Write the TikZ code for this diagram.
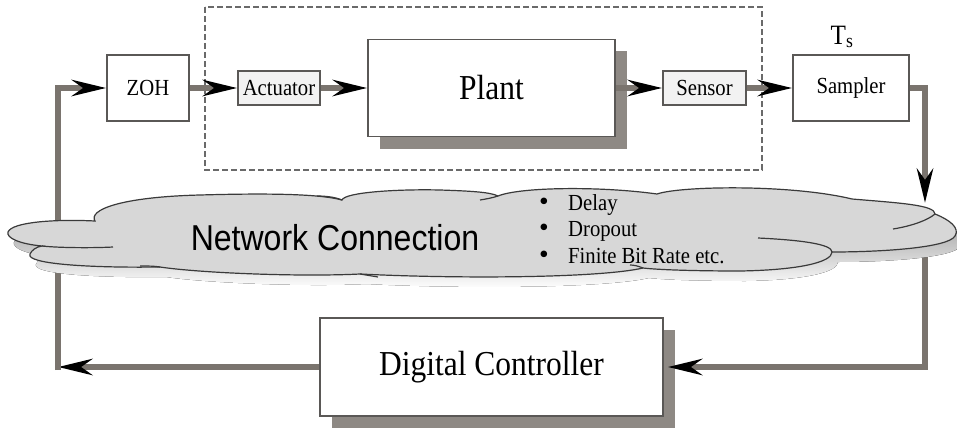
\documentclass[tikz,border=0pt]{standalone}
\usepackage{fontspec}
\setmainfont{Liberation Serif}
\setsansfont{Liberation Sans}
\usetikzlibrary{arrows.meta,shadows}

\definecolor{shaft}{HTML}{7A746E}
\definecolor{edge}{HTML}{5A5856}
\definecolor{shade}{HTML}{8E8984}
\definecolor{cloudfill}{HTML}{D7D7D7}
\definecolor{cloudedge}{HTML}{3A3A3A}
\definecolor{dashgray}{HTML}{6A6A6A}

% slightly condensed lettering
\newcommand{\narrow}[1]{\scalebox{0.9}[1]{#1}}
\newcommand{\issue}[1]{\makebox[30pt][l]{\hspace{1pt}\scalebox{1.2}{\textbullet}}\narrow{#1}}

\begin{document}
\begin{tikzpicture}[x=1pt,y=-1pt,
  blockbox/.style={draw=edge, line width=1.6pt, fill=white, inner sep=0pt},
  smallbox/.style={blockbox, fill=black!5},
  bigshadow/.style={drop shadow={shadow xshift=12pt, shadow yshift=-12pt,
      fill=shade, opacity=1}},
  flow/.style={draw=shaft, line width=6pt, line join=miter,
    -{Stealth[length=34pt,width=16pt,inset=11pt,color=black]}},
  cloudpath/.style={insert path={
    (8,232)
    .. controls (12,222) and (55,219) .. (95,221)
    .. controls (88,210) and (120,197) .. (200,195)
    .. controls (270,193) and (320,194) .. (342,200)
    .. controls (345,192) and (400,189) .. (440,190)
    .. controls (470,191) and (490,192) .. (498,196)
    .. controls (520,187) and (600,186) .. (657,194)
    .. controls (680,186) and (790,184) .. (852,199)
    .. controls (900,203) and (935,205) .. (935,214)
    .. controls (950,220) and (960,228) .. (955,236)
    .. controls (948,248) and (880,252) .. (832,252)
    .. controls (832,262) and (800,270) .. (740,271)
    .. controls (700,271) and (660,270) .. (643,268)
    .. controls (600,278) and (460,279) .. (360,274)
    .. controls (300,277) and (200,273) .. (160,267)
    .. controls (90,268) and (25,264) .. (30,254)
    .. controls (32,250) and (36,247) .. (42,246)
    .. controls (20,244) and (6,238) .. (8,232)
    -- cycle}},
  cloudline/.style={draw=cloudedge, line width=1.2pt}
]
\useasboundingbox (0,0) rectangle (957,428);

% boundary of the networked plant
\draw[dashgray, line width=1.4pt, dash pattern=on 6pt off 3pt] (205,7) rectangle (762,170);

% blocks
\node[blockbox, minimum width=82pt, minimum height=66pt] (zoh) at (148,88)
  {\fontsize{23}{26}\selectfont\narrow{ZOH}};
\node[smallbox, minimum width=82pt, minimum height=34pt] (act) at (279,88)
  {\fontsize{23}{26}\selectfont\narrow{Actuator}};
\node[blockbox, bigshadow, minimum width=247pt, minimum height=97pt] (plant) at (491.5,88)
  {\fontsize{35}{38}\selectfont\narrow{Plant}};
\node[smallbox, minimum width=83pt, minimum height=34pt] (sens) at (704.5,88)
  {\fontsize{23}{26}\selectfont\narrow{Sensor}};
\node[blockbox, minimum width=116pt, minimum height=66pt] (samp) at (851,88)
  {\fontsize{23}{26}\selectfont\narrow{Sampler}};
\node[inner sep=0pt] (ts) at (842,37)
  {\fontsize{28}{30}\selectfont\narrow{T\textsubscript{s}}};
\node[blockbox, bigshadow, minimum width=343pt, minimum height=98pt] (dc) at (491.5,367)
  {\fontsize{35}{38}\selectfont\narrow{Digital Controller}};

% loop corners
\coordinate (bl) at (58,367);
\coordinate (rt) at (925,203);
\coordinate (rc) at (925,240);

% signal flow
\draw[flow] (zoh.east) -- (act.west);
\draw[flow] (act.east) -- (plant.west);
\draw[flow] (plant.east) -- (sens.west);
\draw[flow] (sens.east) -- (samp.west);
\draw[flow] (samp.east) -| (rt);
\draw[flow] (rc) |- ([xshift=4pt]dc.east);
\draw[flow] (dc.west) -- (bl);
\draw[flow] ([yshift=-3pt]bl) |- (zoh.west);

% network cloud with its shadow
\fill[shade, shift={(6,10)}, cloudpath];
\filldraw[fill=cloudfill, cloudline, cloudpath];
\draw[cloudline] (42,246) .. controls (60,248) and (95,248) .. (113,247);
\draw[cloudline] (758,238) .. controls (800,240) and (832,244) .. (832,252);
\draw[cloudline] (893,229) .. controls (912,226) and (928,220) .. (935,214);
\draw[cloudline] (342,200) .. controls (335,197) and (325,196) .. (317,196);
\draw[cloudline] (498,196) .. controls (492,198) and (486,199) .. (480,200);
\draw[cloudline] (643,268) .. controls (638,266) and (634,265) .. (630,265);
\draw[cloudline] (360,274) .. controls (366,275) and (372,276) .. (378,277);
\draw[cloudline] (160,267) .. controls (154,266) and (148,266) .. (140,266);

\node (net) at (335,238)
  {\sffamily\fontsize{36}{40}\selectfont\scalebox{0.89}[1]{Network Connection}};
\node[anchor=west, inner sep=0pt, align=left,
      font={\fontsize{23}{26.5}\selectfont}] (issues) at (538,229)
  {\issue{Delay}\\ \issue{Dropout}\\ \issue{Finite Bit Rate etc.}};
\end{tikzpicture}
\end{document}
